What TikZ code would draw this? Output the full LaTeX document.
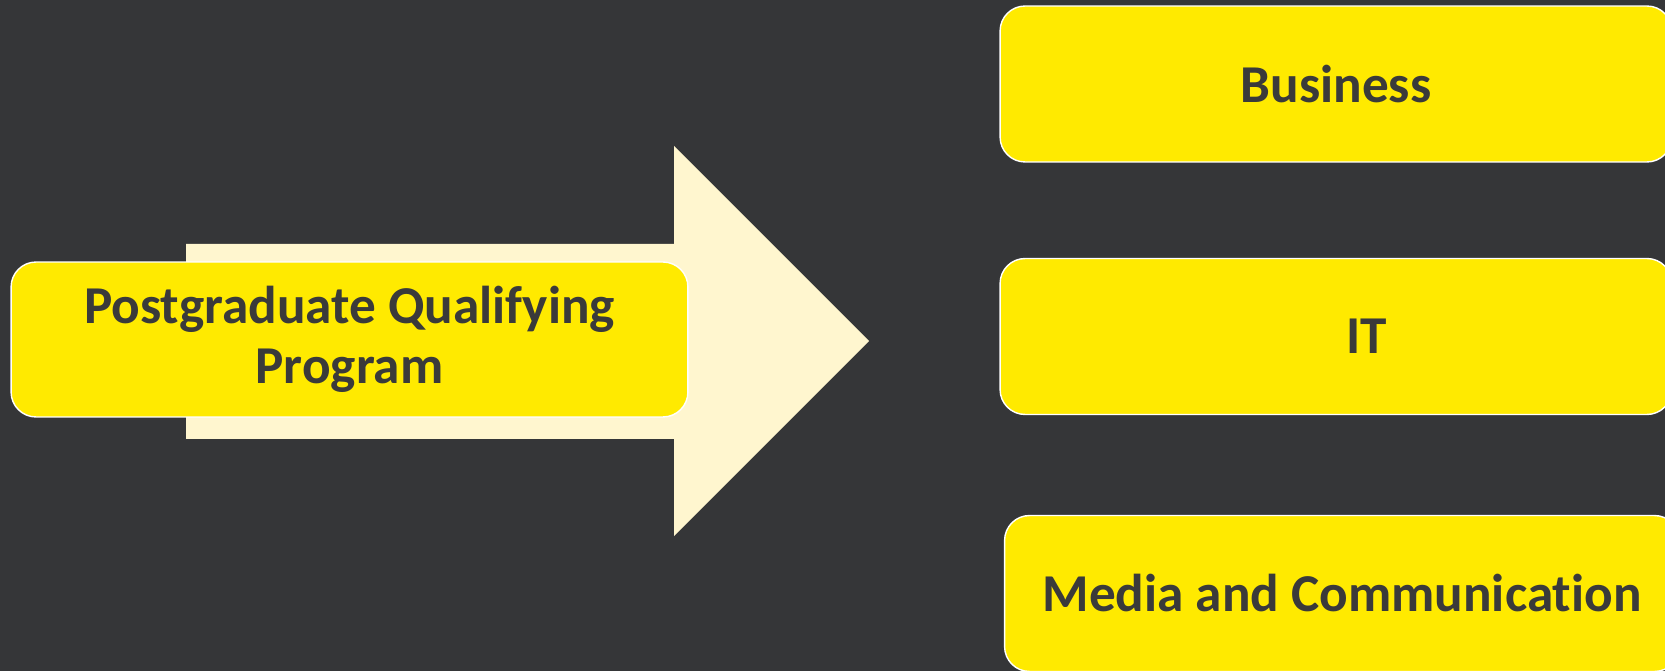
\documentclass[tikz,border=0pt]{standalone}
\usepackage{fontspec}
\setmainfont{Carlito}[Ligatures=NoCommon]
\definecolor{slate}{HTML}{353638}
\definecolor{gold}{HTML}{FFEA00}
\definecolor{cream}{HTML}{FFF6CF}
\definecolor{ink}{HTML}{3A3A3A}

\begin{document}
\begin{tikzpicture}[x=0.02cm,y=-0.02cm,
  pill/.style={draw=white,line width=0.8pt,fill=gold,rounded corners=0.5cm,text=ink,
    font=\fontsize{30.3}{34}\selectfont\bfseries,align=center,inner sep=0pt,minimum height=3.12cm}]
\fill[slate] (0,0) rectangle (1665,671);
\clip (0,0) rectangle (1665,671);
\fill[cream] (186,244)--(674,244)--(674,146)--(869,341)--(674,536)--(674,439)--(186,439)--cycle;
\node[pill,minimum width=13.54cm,minimum height=3.1cm] (pqp) at (349.5,339.5) {Postgraduate Qualifying\\Program};
\node[pill,minimum width=13.44cm] (biz) at (1336,84) {Business};
\node[pill,minimum width=13.44cm] (it) at (1336,336.5) {\hspace*{1.24cm}IT};
\node[pill,minimum width=13.5cm] (media) at (1342,593.5) {Media and Communication};
\end{tikzpicture}
\end{document}
